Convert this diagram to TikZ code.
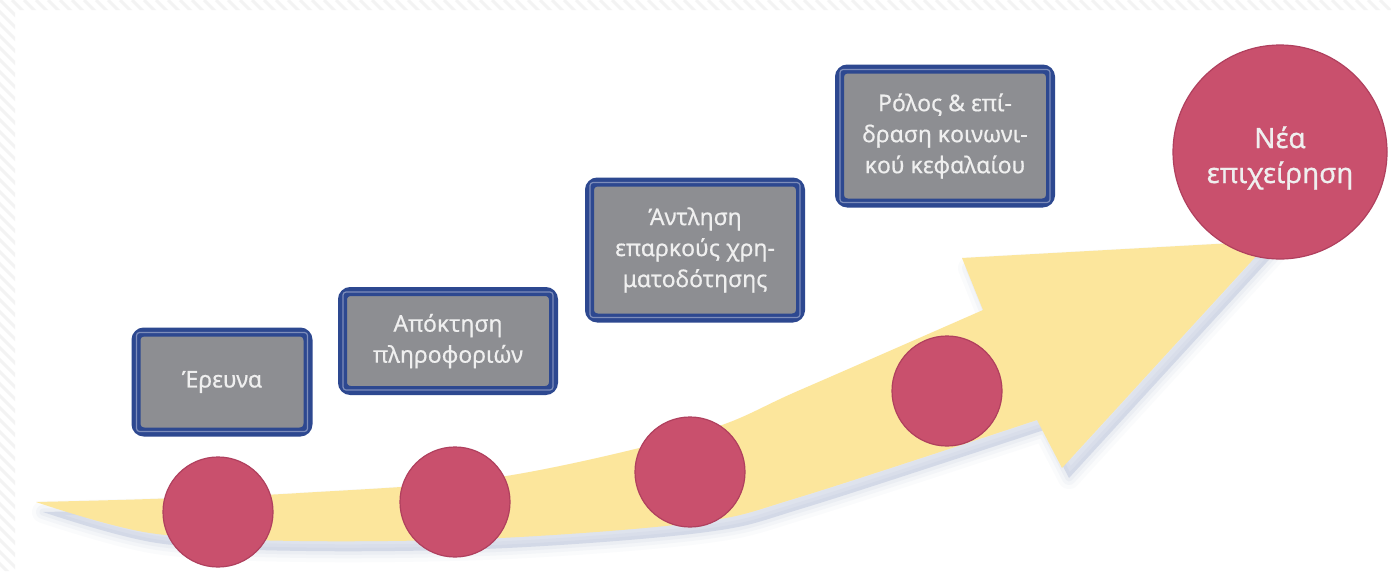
\documentclass[tikz,border=0pt]{standalone}
\usepackage{fontspec}
\setmainfont{Noto Sans}
\newfontfamily\lblfont{Noto Sans}[FakeBold=0.6]
\definecolor{boxfill}{HTML}{8D8E92}
\definecolor{boxline}{HTML}{2D4890}
\definecolor{boxinner}{HTML}{7D8DBA}
\definecolor{dotc}{HTML}{C9506D}
\definecolor{dotline}{HTML}{B0405E}
\definecolor{arrowc}{HTML}{FCE69C}
\definecolor{shadowc}{HTML}{8E9CC4}
\definecolor{txt}{HTML}{EFEFEF}
\definecolor{hatchc}{HTML}{F3F3F3}
\newcommand\ArrowShape{plot[smooth,tension=0.55] coordinates {(36,502) (150,499) (300,493) (500,477) (700,432) (800,390) (983,310)} -- (962,258) -- (1270,241) -- (1062,468) -- (1037,420) -- plot[smooth,tension=0.55] coordinates {(1037,420) (800,497) (700,522) (500,538) (300,541) (150,533) (36,502)} -- cycle}
\tikzset{
  stepbox/.style={draw=boxline, line width=9pt, fill=boxfill, rounded corners=8pt,
    text=txt, align=center, font=\lblfont\fontsize{23}{31}\selectfont, inner sep=0pt},
  dot/.style={circle, fill=dotc, draw=dotline, line width=1.2pt, minimum size=110pt, inner sep=0pt},
  hatchline/.style={hatchc, line width=3pt},
  innerline/.style={boxinner, line width=1.2pt, rounded corners=3pt}
}
\begin{document}
\begin{tikzpicture}[x=1pt,y=-1pt]
\useasboundingbox (0,0) rectangle (1391,571);
\fill[white] (0,0) rectangle (1391,571);
% faint hatched frame
\begin{scope}
  \clip (0,0) rectangle (1391,10) (0,0) rectangle (15,571);
  \foreach \i in {-600,-588,...,1400} \draw[hatchline] (\i,0) -- (\i+600,600);
\end{scope}
% arrow shadow
\begin{scope}[shift={(7,10)}]
  \foreach \w/\o in {22/0.04,14/0.06,7/0.08} \draw[shadowc, line width=\w pt, opacity=\o, line join=round] \ArrowShape;
  \fill[shadowc, opacity=0.25] \ArrowShape;
\end{scope}
\fill[arrowc] \ArrowShape;
% boxes
\node[stepbox, minimum width=172pt, minimum height=100pt] (b1) at (222,382) {Έρευνα};
\node[stepbox, minimum width=211pt, minimum height=99pt] (b2) at (448,341) {Απόκτηση\\πληροφοριών};
\node[stepbox, minimum width=211pt, minimum height=136pt] (b3) at (695,250) {Άντληση\\επαρκούς χρη-\\ματοδότησης};
\node[stepbox, minimum width=211pt, minimum height=134pt] (b4) at (945,136) {Ρόλος \& επί-\\δραση κοινωνι-\\κού κεφαλαίου};
\foreach \b in {b1,b2,b3,b4}
  \draw[innerline] ([shift={(5,5)}]\b.north west) rectangle ([shift={(-5,-5)}]\b.south east);
% circles
\node[dot] (c1) at (218,512) {};
\node[dot] (c2) at (455,502) {};
\node[dot] (c3) at (690,472) {};
\node[dot] (c4) at (947,391) {};
\node[dot, minimum size=214pt] (goal) at (1280,152) {};
\node[text=txt, align=center, font=\lblfont\fontsize{28}{35}\selectfont, inner sep=0pt] (goaltext) at ([yshift=-6pt]goal.center) {Νέα\\επιχείρηση};
\end{tikzpicture}
\end{document}
